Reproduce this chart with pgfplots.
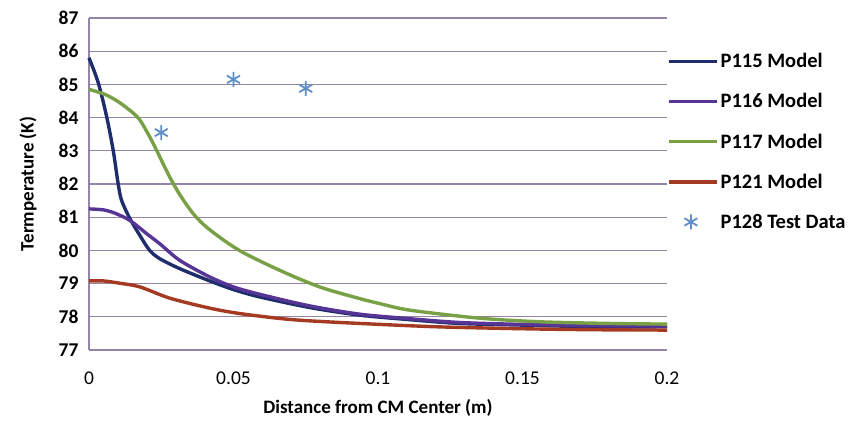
\documentclass[border=0pt]{standalone}
\usepackage{pgfplots}
\pgfplotsset{compat=1.18}
\usepackage{fontspec}
\setmainfont{Carlito}
\definecolor{cA}{HTML}{1F2D6C}
\definecolor{cB}{HTML}{573596}
\definecolor{cC}{HTML}{78A045}
\definecolor{cD}{HTML}{A53A22}
\definecolor{cE}{HTML}{5F8FC8}
\definecolor{gridc}{HTML}{9484A8}
\pgfplotsset{markleg/.style={legend image code/.code={\draw[mark repeat=1,mark phase=1,##1] plot coordinates {(22pt,0pt)};}}}
\begin{document}
\begin{tikzpicture}
\begin{axis}[
  scale only axis, width=578pt, height=332pt,
  xmin=0, xmax=0.2, ymin=77, ymax=87,
  axis lines=left, axis line style={-, draw=gridc, line width=1.2pt},
  xtick={0,0.05,0.1,0.15,0.2}, xticklabels={0,0.05,0.1,0.15,0.2},
  ytick={77,...,87},
  ymajorgrids, grid style={draw=gridc, line width=1.2pt},
  major tick length=0pt,
  tick label style={font=\fontsize{19.5}{22}\selectfont},
  yticklabel style={font=\fontsize{19.5}{22}\selectfont\bfseries, xshift=-7pt},
  xticklabel style={yshift=-18pt},
  /pgf/number format/assume math mode=true,
  xlabel={\bfseries Distance from CM Center (m)},
  ylabel={\bfseries Termperature (K)},
  label style={font=\fontsize{19}{22}\selectfont},
  xlabel style={at={(axis description cs:0.5,-0.1747)}, anchor=center},
  ylabel style={at={(axis description cs:-0.1055,0.5)}, anchor=center},
  legend style={at={(1.0,0.90)}, anchor=north west, draw=none, fill=none,
    font=\fontsize{20.5}{23}\selectfont\bfseries, row sep=20.3pt,
    inner xsep=0pt, inner ysep=0pt},
  legend cell align=left,
  legend image code/.code={\draw[#1] (0pt,0pt) -- (48pt,0pt);},
  clip=false,
]
\addplot[cA, line width=3.4pt, smooth, tension=0.5] coordinates {
(0,85.8) (0.0032,85.05) (0.0061,84.03) (0.0084,83.0) (0.0101,82.0) (0.0113,81.5) (0.0142,80.95) (0.0176,80.45) (0.021,80.0) (0.0245,79.75) (0.0314,79.45) (0.0418,79.08) (0.05,78.82) (0.059,78.6) (0.0763,78.28) (0.0936,78.05) (0.11,77.92) (0.128,77.8) (0.15,77.75) (0.175,77.7) (0.2,77.7)};
\addlegendentry{P115 Model}
\addplot[cB, line width=3.4pt, smooth] coordinates {
(0,81.25) (0.005,81.22) (0.009,81.12) (0.0142,80.9) (0.02,80.5) (0.0245,80.2) (0.0314,79.7) (0.0418,79.2) (0.05,78.9) (0.059,78.68) (0.0763,78.33) (0.0936,78.08) (0.11,77.95) (0.128,77.83) (0.15,77.77) (0.175,77.73) (0.2,77.72)};
\addlegendentry{P116 Model}
\addplot[cC, line width=3.4pt, smooth] coordinates {
(0,84.85) (0.0055,84.7) (0.0101,84.48) (0.0147,84.18) (0.0176,83.93) (0.0205,83.5) (0.0228,83.12) (0.0257,82.6) (0.0286,82.1) (0.032,81.6) (0.0366,81.05) (0.0418,80.62) (0.052,80.0) (0.066,79.4) (0.0798,78.9) (0.0936,78.55) (0.1005,78.4) (0.111,78.2) (0.135,77.96) (0.156,77.85) (0.18,77.8) (0.2,77.78)};
\addlegendentry{P117 Model}
\addplot[cD, line width=3.4pt, smooth] coordinates {
(0,79.08) (0.005,79.08) (0.01,79.02) (0.0176,78.9) (0.028,78.56) (0.0418,78.26) (0.052,78.1) (0.066,77.95) (0.076,77.88) (0.0936,77.8) (0.12,77.7) (0.15,77.64) (0.175,77.61) (0.2,77.6)};
\addlegendentry{P121 Model}
\addplot[only marks, mark=asterisk, mark size=7.5pt, mark options={draw=cE, line width=1.8pt}, markleg] coordinates {
(0.025,83.55) (0.05,85.15) (0.075,84.88)};
\addlegendentry{P128 Test Data}
\end{axis}
\pgfresetboundingbox
\path (-89pt,-72pt) rectangle (773pt,350pt);
\end{tikzpicture}
\end{document}
